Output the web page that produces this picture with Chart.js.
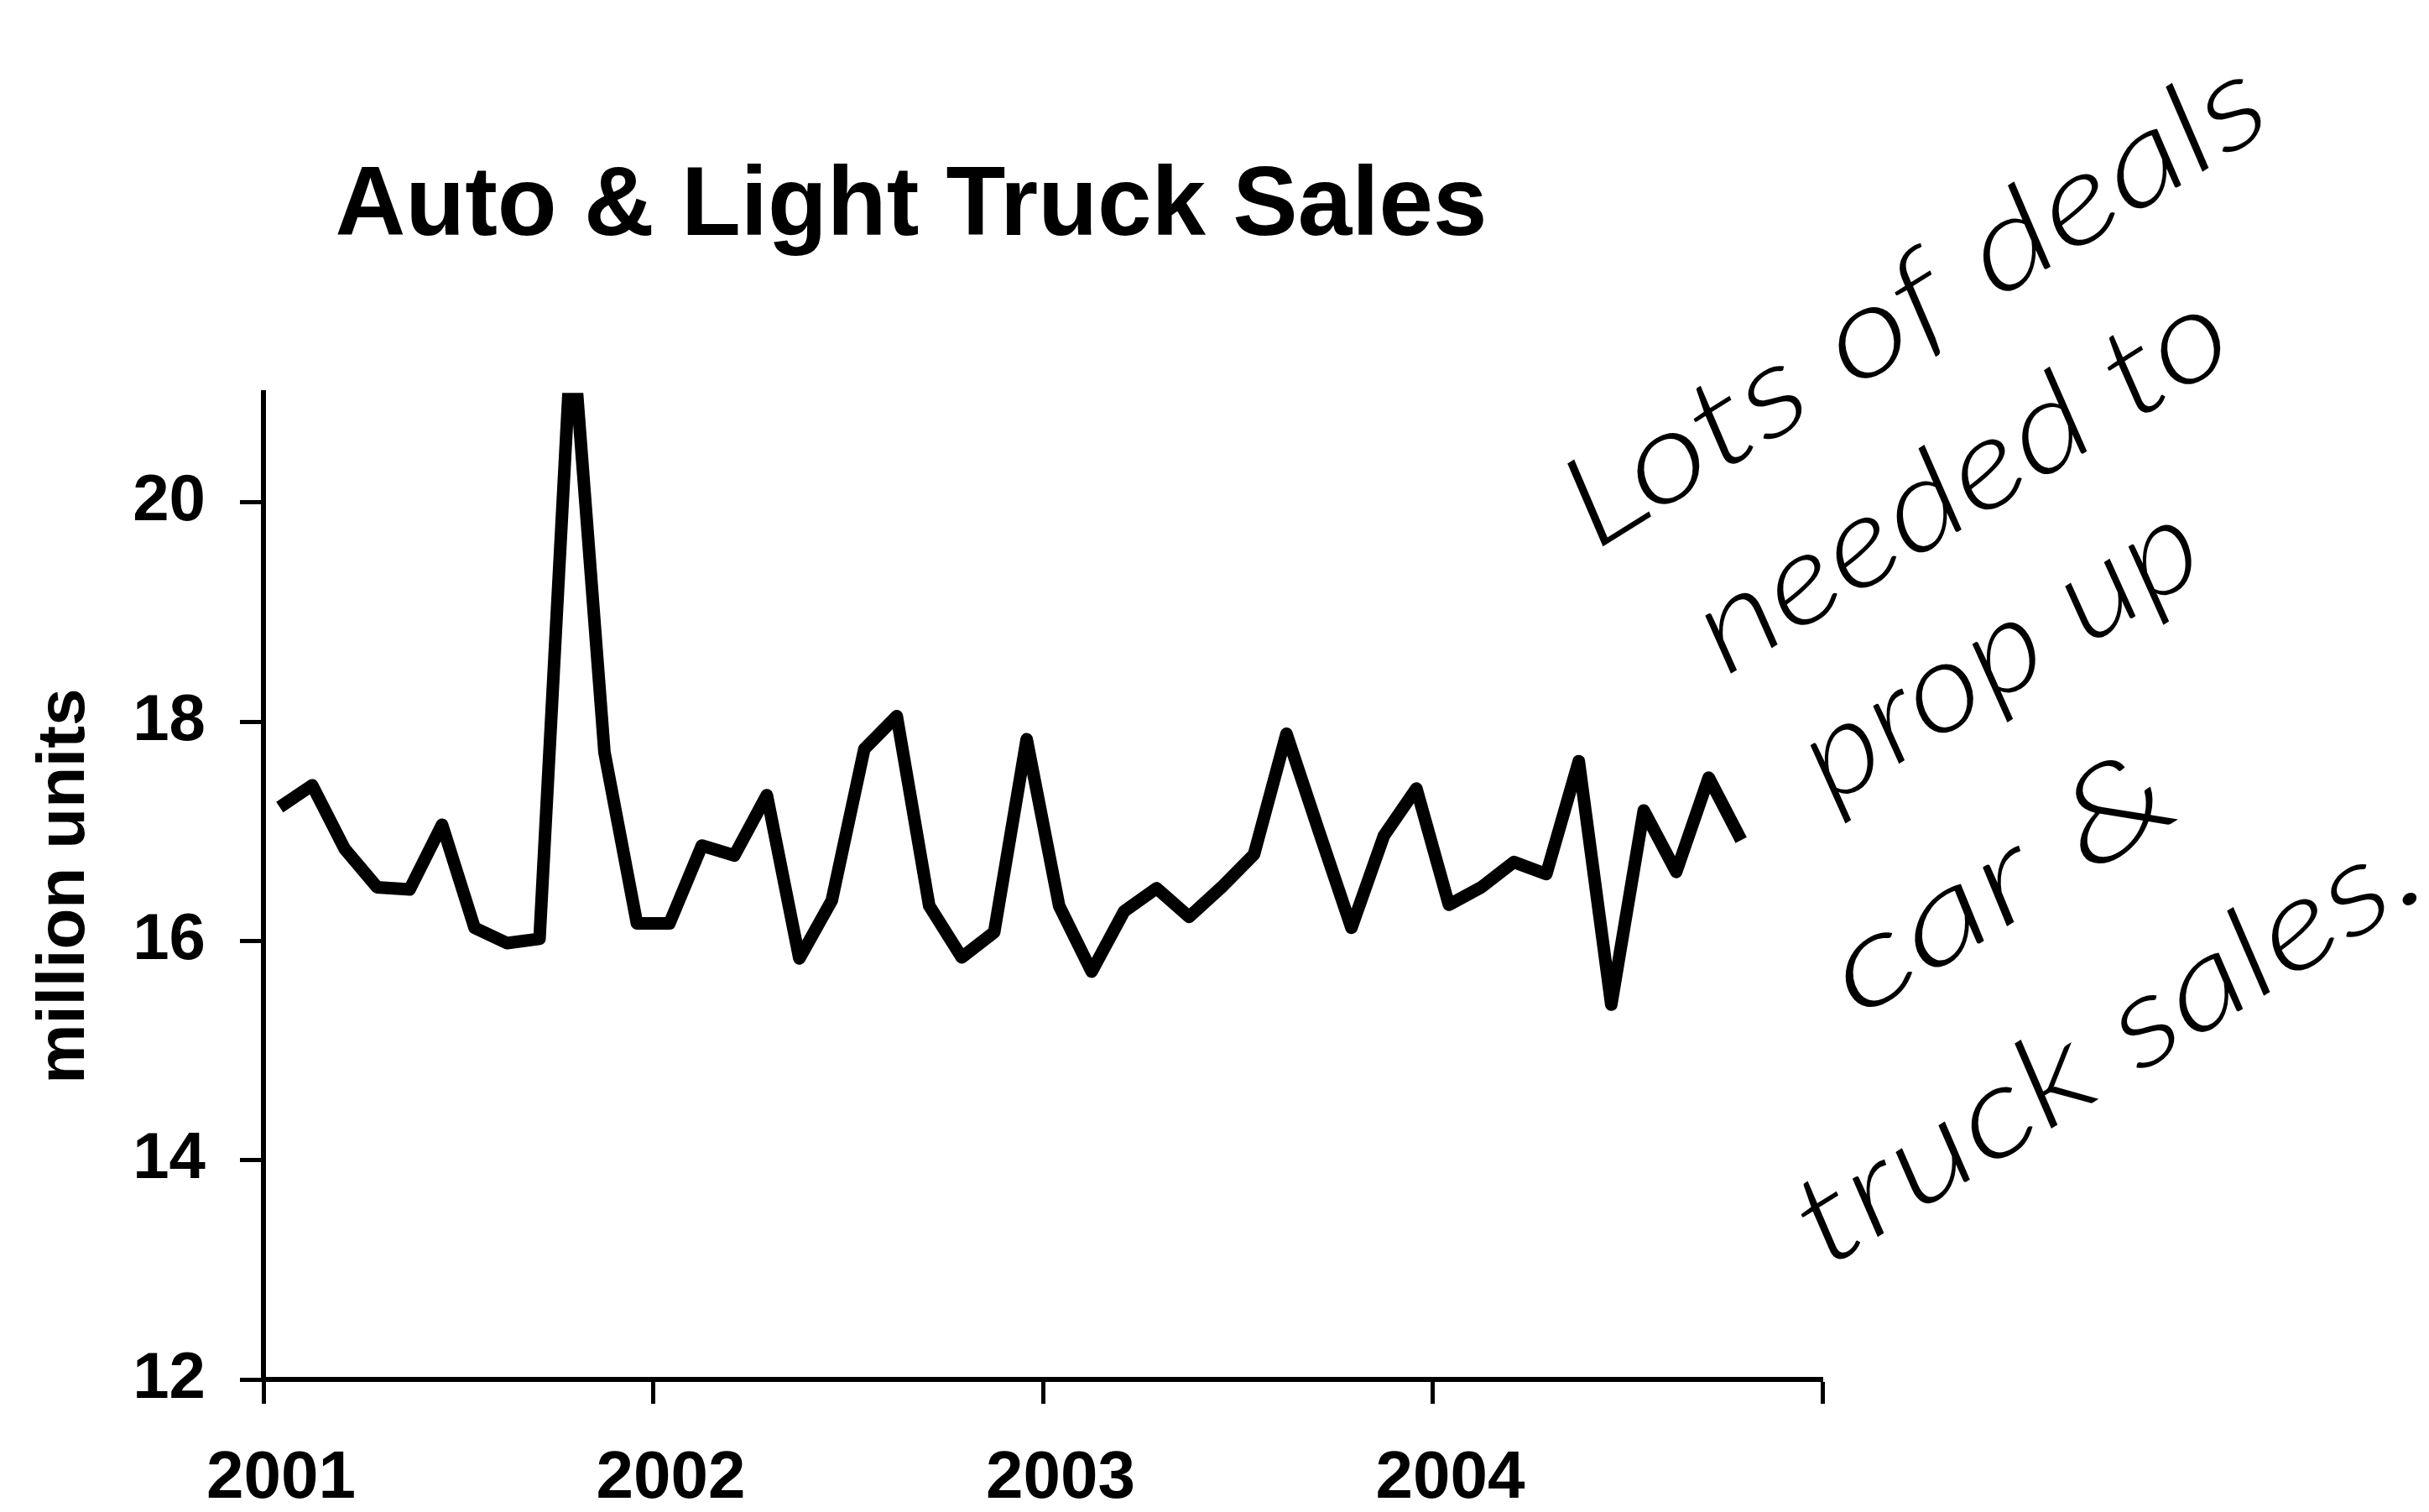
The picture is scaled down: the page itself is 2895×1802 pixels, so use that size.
<!DOCTYPE html>
<html>
<head>
<meta charset="utf-8">
<title>Auto &amp; Light Truck Sales</title>
<script src="https://cdn.jsdelivr.net/npm/chart.js@4.4.1/dist/chart.umd.min.js"></script>
<style>
  html, body { margin: 0; padding: 0; background: #ffffff; }
  #wrap { width: 2895px; height: 1802px; position: relative; background: #ffffff; }
  canvas { display: block; }
</style>
</head>
<body>
<div id="wrap"><canvas id="sales" width="2895" height="1802"></canvas></div>
<script>
// Monthly periods, Jan 2001 - Oct 2004
const months = [
  '2001-01','2001-02','2001-03','2001-04','2001-05','2001-06','2001-07','2001-08','2001-09','2001-10','2001-11','2001-12',
  '2002-01','2002-02','2002-03','2002-04','2002-05','2002-06','2002-07','2002-08','2002-09','2002-10','2002-11','2002-12',
  '2003-01','2003-02','2003-03','2003-04','2003-05','2003-06','2003-07','2003-08','2003-09','2003-10','2003-11','2003-12',
  '2004-01','2004-02','2004-03','2004-04','2004-05','2004-06','2004-07','2004-08','2004-09','2004-10'
];

// Auto & light truck sales, million units (annual rate)
const sales = [
  17.22, 17.42, 16.84, 16.49, 16.47, 17.06, 16.12, 15.98, 16.02, 21.60, 17.72, 16.16,
  16.16, 16.87, 16.78, 17.33, 15.84, 16.37, 17.75, 18.05, 16.32, 15.85, 16.08, 17.84,
  16.32, 15.72, 16.27, 16.48, 16.22, 16.49, 16.79, 17.89, 17.00, 16.12, 16.96, 17.39,
  16.33, 16.49, 16.72, 16.61, 17.64, 15.42, 17.19, 16.63, 17.49, 16.92
];

// Year boundaries on the month axis and their labels
const yearTicks  = [0, 12, 24, 36, 48];
const yearLabels = ['2001', '2002', '2003', '2004', ''];

// Value axis ticks
const valueTicks = [12, 14, 16, 18, 20];

// Handwritten margin note, one entry per written line
const noteLines = ['Lots of deals', 'needed to', 'prop up', 'car &', 'truck sales.'];

const FONT = "'Liberation Sans', Arial, Helvetica, sans-serif";

// Places each month in the middle of its slot on the month axis
const points = months.map((m, i) => ({ x: i + 0.5, y: sales[i] }));

// Draws the handwritten note beside the plot
const marginNote = {
  id: 'marginNote',
  afterDraw(chart) {
    const ctx = chart.ctx;
    const spots = [
      { cx: 2282, cy: 362, len: 960 },
      { cx: 2338, cy: 574, len: 724 },
      { cx: 2384, cy: 778, len: 535 },
      { cx: 2384, cy: 1052, len: 460 },
      { cx: 2512, cy: 1246, len: 850 }
    ];
    ctx.save();
    ctx.fillStyle = '#000000';
    ctx.textAlign = 'center';
    ctx.textBaseline = 'middle';
    noteLines.forEach((line, i) => {
      const s = spots[i];
      ctx.font = "italic 300 150px Lato, 'Open Sans', sans-serif";
      const w = ctx.measureText(line).width;
      const sx = s.len / w;
      ctx.save();
      ctx.translate(s.cx, s.cy);
      ctx.rotate(-32 * Math.PI / 180);
      ctx.scale(sx, 1);
      ctx.fillText(line, 0, 0);
      ctx.restore();
    });
    ctx.restore();
  }
};

new Chart(document.getElementById('sales').getContext('2d'), {
  type: 'line',
  data: {
    datasets: [{
      label: 'Auto & Light Truck Sales',
      data: points,
      borderColor: '#000000',
      backgroundColor: '#000000',
      borderWidth: 15,
      pointRadius: 0,
      tension: 0,
      fill: false,
      borderJoinStyle: 'round',
      borderCapStyle: 'butt',
      clip: 0
    }]
  },
  options: {
    responsive: false,
    animation: false,
    devicePixelRatio: 1,
    layout: { padding: { left: 0, right: 723, top: 0, bottom: -51 } },
    plugins: {
      legend: { display: false },
      tooltip: { enabled: false },
      title: {
        display: true,
        text: 'Auto & Light Truck Sales',
        color: '#000000',
        align: 'center',
        font: { family: FONT, size: 116, weight: 'bold', lineHeight: 1.2 },
        padding: { top: 178, bottom: 151 }
      }
    },
    scales: {
      x: {
        type: 'linear',
        min: 0,
        max: 48,
        afterBuildTicks(scale) { scale.ticks = yearTicks.map(v => ({ value: v })); },
        ticks: {
          autoSkip: false,
          maxRotation: 0,
          minRotation: 0,
          labelOffset: 21,
          padding: 50,
          color: '#000000',
          font: { family: FONT, size: 80, weight: 'bold', lineHeight: 1 },
          callback(value, index) { return yearLabels[index]; }
        },
        grid: {
          drawOnChartArea: false,
          drawTicks: true,
          tickLength: 29,
          tickWidth: 5,
          tickColor: '#000000'
        },
        border: { display: true, color: '#000000', width: 6 }
      },
      y: {
        min: 12,
        max: 21,
        afterBuildTicks(scale) { scale.ticks = valueTicks.map(v => ({ value: v })); },
        afterFit(scale) { scale.width = 314; },
        ticks: {
          padding: 41,
          color: '#000000',
          font: { family: FONT, size: 78, weight: 'bold', lineHeight: 1 },
          callback(value) { return String(value); }
        },
        grid: {
          drawOnChartArea: false,
          drawTicks: true,
          tickLength: 28,
          tickWidth: 5,
          tickColor: '#000000'
        },
        border: { display: true, color: '#000000', width: 6 },
        title: {
          display: true,
          text: 'million units',
          color: '#000000',
          font: { family: FONT, size: 80, weight: 'bold' },
          padding: { top: 30, bottom: 0 }
        }
      }
    }
  },
  plugins: [marginNote]
});
</script>
</body>
</html>
